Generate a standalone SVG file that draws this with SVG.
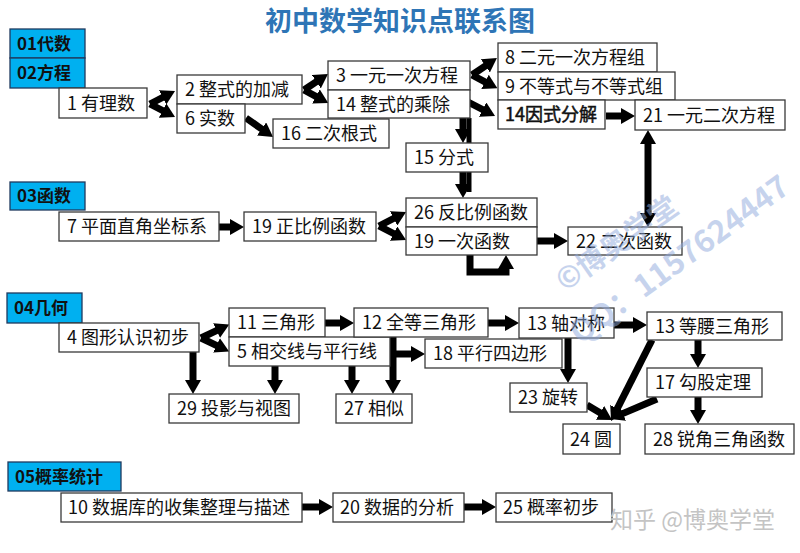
<svg xmlns="http://www.w3.org/2000/svg" width="800" height="553" viewBox="0 0 800 553">
<style>
text{font-family:"Noto Sans CJK SC","Noto Sans",sans-serif;}
.n rect{fill:#fff;stroke:#3a3a3a;stroke-width:1.3}
.n text{font-size:18px;fill:#111}
.c rect{fill:#00B0F0;stroke:#1f3a5f;stroke-width:1.3}
.c text{font-size:17px;font-weight:bold;fill:#111}
.a{stroke:#000;stroke-width:7;fill:none;marker-end:url(#ah);stroke-linejoin:miter}
.wm{font-weight:bold;fill:#8fa9dc;opacity:0.5}
</style>
<defs>
<marker id="ah" viewBox="0 0 14 16" refX="1" refY="8" markerWidth="14" markerHeight="16" markerUnits="userSpaceOnUse" orient="auto-start-reverse">
<path d="M0,0 L14,8 L0,16 Z" fill="#000"/>
</marker>
</defs>
<rect width="800" height="553" fill="#fff"/>
<text x="400" y="31" text-anchor="middle" font-size="27" font-weight="bold" fill="#2E75B6">初中数学知识点联系图</text>

<g id="connectors">
<line class="a" x1="150" y1="104" x2="163.5" y2="97"/>
<line class="a" x1="150" y1="104" x2="163.5" y2="111"/>
<line class="a" x1="246" y1="118" x2="262.4" y2="129.5"/>
<line class="a" x1="304" y1="90" x2="317.2" y2="81.2"/>
<line class="a" x1="304" y1="90" x2="316.8" y2="96.9"/>
<line class="a" x1="472" y1="75" x2="486.2" y2="65.3"/>
<line class="a" x1="472" y1="75" x2="485.9" y2="82.3"/>
<line class="a" x1="468" y1="102" x2="483.5" y2="110"/>
<line x1="469" y1="118" x2="469" y2="192" stroke="#000" stroke-width="5"/>
<line class="a" x1="463" y1="118" x2="463" y2="130"/>
<line class="a" x1="463" y1="172" x2="463" y2="185"/>
<line class="a" x1="379" y1="226" x2="394.5" y2="218"/>
<line class="a" x1="379" y1="226" x2="394.5" y2="234"/>
<line class="a" x1="219" y1="227" x2="231" y2="227"/>
<line class="a" x1="537" y1="241" x2="555" y2="241"/>
<path class="a" d="M470,255 V272 H506 V268"/>
<line class="a" x1="648" y1="143" x2="648" y2="214" marker-start="url(#ah)"/>
<line class="a" x1="606" y1="116" x2="622" y2="116"/>
<line class="a" x1="201" y1="338" x2="217.5" y2="330.1"/>
<line class="a" x1="201" y1="338" x2="217.4" y2="345.8"/>
<line class="a" x1="193" y1="352" x2="193" y2="381"/>
<line class="a" x1="275" y1="366" x2="275" y2="381"/>
<line class="a" x1="352" y1="366" x2="352" y2="381"/>
<line class="a" x1="393" y1="337" x2="393" y2="381"/>
<line class="a" x1="393" y1="354" x2="412" y2="354"/>
<line class="a" x1="325" y1="323" x2="341" y2="323"/>
<line class="a" x1="488" y1="323" x2="506" y2="323"/>
<line class="a" x1="614" y1="325" x2="634" y2="325"/>
<line class="a" x1="568" y1="338" x2="568" y2="370"/>
<line class="a" x1="652" y1="340" x2="616.9" y2="409.4"/>
<line class="a" x1="657" y1="399" x2="622" y2="413.9"/>
<line class="a" x1="587" y1="405" x2="600.9" y2="413.3"/>
<line class="a" x1="698" y1="340" x2="698" y2="355"/>
<line class="a" x1="698" y1="397" x2="698" y2="411"/>
<line class="a" x1="302" y1="507" x2="320" y2="507"/>
<line class="a" x1="464" y1="507" x2="483" y2="507"/>
</g>

<g id="c1" class="c"><rect x="10" y="29" width="75" height="29"/><text x="17" y="50">01代数</text></g>
<g id="c2" class="c"><rect x="10" y="58" width="75" height="30"/><text x="17" y="79">02方程</text></g>
<g id="c3" class="c"><rect x="10" y="182" width="75" height="28"/><text x="17" y="202">03函数</text></g>
<g id="c4" class="c"><rect x="7" y="293" width="75" height="30"/><text x="14" y="314">04几何</text></g>
<g id="c5" class="c"><rect x="8" y="462" width="113" height="29"/><text x="15" y="483">05概率统计</text></g>

<g id="n1" class="n"><rect x="59" y="88" width="88" height="30"/><text x="67" y="109.5">1 有理数</text></g>
<g id="n2" class="n"><rect x="177" y="75" width="125" height="29"/><text x="185" y="96">2 整式的加减</text></g>
<g id="n6" class="n"><rect x="177" y="104" width="68" height="29"/><text x="185" y="125">6 实数</text></g>
<g id="n16" class="n"><rect x="273" y="119" width="116" height="29"/><text x="281" y="140">16 二次根式</text></g>
<g id="n3" class="n"><rect x="328" y="61" width="142" height="29"/><text x="336" y="82">3 一元一次方程</text></g>
<g id="n14a" class="n"><rect x="328" y="90" width="142" height="28"/><text x="336" y="110.5">14 整式的乘除</text></g>
<g id="n8" class="n"><rect x="498" y="43" width="159" height="29"/><text x="505" y="64">8 二元一次方程组</text></g>
<g id="n9" class="n"><rect x="498" y="72" width="177" height="28"/><text x="505" y="92.5">9 不等式与不等式组</text></g>
<g id="n14b" class="n"><rect x="498" y="100" width="107" height="29"/><text x="505" y="121" stroke="#111" stroke-width="0.5">14因式分解</text></g>
<g id="n21" class="n"><rect x="635" y="100" width="150" height="30"/><text x="643" y="121.5">21 一元二次方程</text></g>
<g id="n15" class="n"><rect x="406" y="143" width="82" height="29"/><text x="414" y="164">15 分式</text></g>
<g id="n26" class="n"><rect x="406" y="198" width="131" height="29"/><text x="414" y="219">26 反比例函数</text></g>
<g id="n19b" class="n"><rect x="406" y="227" width="131" height="28"/><text x="414" y="247.5">19 一次函数</text></g>
<g id="n22" class="n"><rect x="568" y="227" width="114" height="28"/><text x="576" y="247.5">22 二次函数</text></g>
<g id="n7" class="n"><rect x="59" y="212" width="160" height="29"/><text x="67" y="233">7 平面直角坐标系</text></g>
<g id="n19a" class="n"><rect x="244" y="212" width="132" height="29"/><text x="252" y="233">19 正比例函数</text></g>
<g id="n4" class="n"><rect x="59" y="323" width="140" height="29"/><text x="67" y="344">4 图形认识初步</text></g>
<g id="n11" class="n"><rect x="229" y="308" width="96" height="29"/><text x="237" y="329">11 三角形</text></g>
<g id="n5" class="n"><rect x="229" y="337" width="161" height="29"/><text x="237" y="358">5 相交线与平行线</text></g>
<g id="n29" class="n"><rect x="169" y="394" width="130" height="29"/><text x="177" y="415">29 投影与视图</text></g>
<g id="n27" class="n"><rect x="336" y="394" width="76" height="29"/><text x="344" y="415">27 相似</text></g>
<g id="n12" class="n"><rect x="354" y="308" width="134" height="29"/><text x="362" y="329">12 全等三角形</text></g>
<g id="n18" class="n"><rect x="425" y="339" width="137" height="29"/><text x="433" y="360">18 平行四边形</text></g>
<g id="n13a" class="n"><rect x="519" y="308" width="95" height="30"/><text x="527" y="329.5">13 轴对称</text></g>
<g id="n13b" class="n"><rect x="647" y="312" width="135" height="28"/><text x="655" y="332.5">13 等腰三角形</text></g>
<g id="n17" class="n"><rect x="647" y="368" width="115" height="29"/><text x="655" y="389">17 勾股定理</text></g>
<g id="n23" class="n"><rect x="510" y="383" width="77" height="29"/><text x="518" y="404">23 旋转</text></g>
<g id="n24" class="n"><rect x="563" y="424" width="57" height="30"/><text x="570" y="445.5">24 圆</text></g>
<g id="n28" class="n"><rect x="645" y="424" width="149" height="30"/><text x="653" y="445.5">28 锐角三角函数</text></g>
<g id="n10" class="n"><rect x="61" y="493" width="241" height="29"/><text x="68" y="514">10 数据库的收集整理与描述</text></g>
<g id="n20" class="n"><rect x="333" y="493" width="131" height="29"/><text x="340" y="514">20 数据的分析</text></g>
<g id="n25" class="n"><rect x="496" y="493" width="116" height="29"/><text x="503" y="514">25 概率初步</text></g>

<text x="610" y="528" font-size="23" fill="#c4c4c4">知乎 @博奥学堂</text>
<text class="wm" x="565" y="292" font-size="29" transform="rotate(-35 565 292)">©博奥学堂</text>
<text class="wm" x="580" y="345" font-size="31" transform="rotate(-36 580 345)">QQ：1157624447</text>
</svg>
